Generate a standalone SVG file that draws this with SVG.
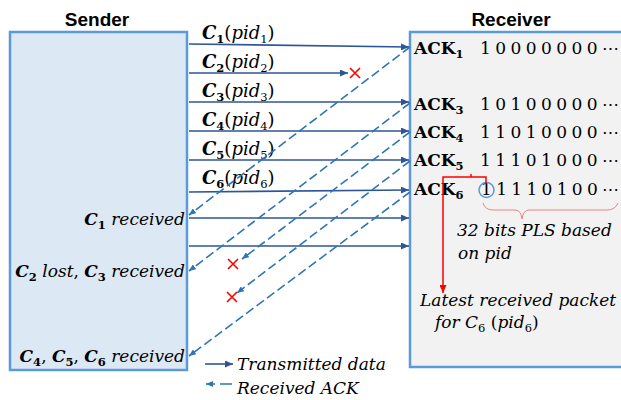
<svg xmlns="http://www.w3.org/2000/svg" width="621" height="400" viewBox="0 0 621 400">
<defs>
<style>
.title{font-family:"Liberation Sans",Arial,sans-serif;font-weight:bold;font-size:19px;fill:#000;text-anchor:middle}
.m{font-family:"DejaVu Serif",serif;font-size:17px;font-style:italic;fill:#000}
.cl{font-size:18px}
.cb{font-weight:bold;font-style:italic}
.up{font-style:normal}
.sb{font-size:11.5px;font-weight:bold;font-style:normal}
.su{font-size:11.5px;font-style:normal}
.ack{font-family:"DejaVu Serif",serif;font-size:17px;font-weight:bold;fill:#000}
.bits{font-family:"DejaVu Serif",serif;font-size:17px;fill:#000}
.data{stroke:#2f5597;stroke-width:1.6;fill:none;marker-end:url(#aS)}
.ackl{stroke:#2e75b6;stroke-width:1.6;fill:none;stroke-dasharray:9 4;marker-end:url(#aD)}
.x{stroke:#ff0000;stroke-width:1.6;fill:none}
</style>
<marker id="aS" markerUnits="userSpaceOnUse" markerWidth="8" markerHeight="7" refX="8" refY="3.5" orient="auto"><path d="M0,0 L8,3.5 L0,7 z" fill="#2f5597"/></marker>
<marker id="aD" markerUnits="userSpaceOnUse" markerWidth="7" markerHeight="6" refX="7" refY="3" orient="auto"><path d="M0,0 L7,3 L0,6 z" fill="#2e75b6"/></marker>
<marker id="aR" markerUnits="userSpaceOnUse" markerWidth="8" markerHeight="7" refX="8" refY="3.5" orient="auto"><path d="M0,0 L8,3.5 L0,7 z" fill="#ff0000"/></marker>
</defs>
<rect width="621" height="400" fill="#fff"/>

<g id="sender">
<rect x="10" y="32" width="177" height="338" fill="#dde8f5" stroke="#5b9bd5" stroke-width="2.5"/>
<text class="title" x="97" y="26">Sender</text>
<text class="m" x="185" y="225" text-anchor="end"><tspan class="cb">C</tspan><tspan class="sb" dy="4">1</tspan><tspan dy="-4"> received</tspan></text>
<text class="m" x="185" y="277" text-anchor="end"><tspan class="cb">C</tspan><tspan class="sb" dy="4">2</tspan><tspan dy="-4"> lost</tspan><tspan class="up">, </tspan><tspan class="cb">C</tspan><tspan class="sb" dy="4">3</tspan><tspan dy="-4"> received</tspan></text>
<text class="m" x="185" y="362" text-anchor="end"><tspan class="cb">C</tspan><tspan class="sb" dy="4">4</tspan><tspan class="up" dy="-4">, </tspan><tspan class="cb">C</tspan><tspan class="sb" dy="4">5</tspan><tspan class="up" dy="-4">, </tspan><tspan class="cb">C</tspan><tspan class="sb" dy="4">6</tspan><tspan dy="-4"> received</tspan></text>
</g>

<g id="receiver">
<rect x="410" y="32" width="220" height="335" fill="#f2f2f2" stroke="#5b9bd5" stroke-width="2.5"/>
<text class="title" x="511" y="26">Receiver</text>
<text class="ack" x="414" y="54">ACK<tspan font-size="11.5" dy="4">1</tspan></text>
<text class="ack" x="414" y="110">ACK<tspan font-size="11.5" dy="4">3</tspan></text>
<text class="ack" x="414" y="138">ACK<tspan font-size="11.5" dy="4">4</tspan></text>
<text class="ack" x="414" y="166">ACK<tspan font-size="11.5" dy="4">5</tspan></text>
<text class="ack" x="414" y="195">ACK<tspan font-size="11.5" dy="4">6</tspan></text>
<text class="bits" x="480" y="54" textLength="139" lengthAdjust="spacing">1 0 0 0 0 0 0 0 ⋯</text>
<text class="bits" x="480" y="110" textLength="139" lengthAdjust="spacing">1 0 1 0 0 0 0 0 ⋯</text>
<text class="bits" x="480" y="138" textLength="139" lengthAdjust="spacing">1 1 0 1 0 0 0 0 ⋯</text>
<text class="bits" x="480" y="166" textLength="139" lengthAdjust="spacing">1 1 1 0 1 0 0 0 ⋯</text>
<text class="bits" x="481" y="195" textLength="138" lengthAdjust="spacing">1 1 1 1 0 1 0 0 ⋯</text>
<circle cx="486.5" cy="190" r="7.5" fill="none" stroke="#5b9bd5" stroke-width="1.5"/>
<path d="M483,203 Q485,210 493,210 L515,210 Q521,210 522,219 Q523,210 529,210 L607,210 Q615,210 618,203" fill="none" stroke="#f08080" stroke-width="1"/>
<text class="m" x="457" y="236">32 bits PLS based</text>
<text class="m" x="458" y="259">on pid</text>
<text class="m" x="420" y="306">Latest received packet</text>
<text class="m" x="435" y="328">for C<tspan class="su" dy="4">6</tspan><tspan dy="-4"> </tspan><tspan class="up">(</tspan>pid<tspan class="su" dy="4">6</tspan><tspan class="up" dy="-4">)</tspan></text>
</g>

<g id="labels">
<text class="m cl" x="202" y="39"><tspan class="cb">C</tspan><tspan class="sb" dy="4">1</tspan><tspan class="up" dy="-4">(</tspan>pid<tspan class="su" dy="4">1</tspan><tspan class="up" dy="-4">)</tspan></text>
<text class="m cl" x="202" y="68"><tspan class="cb">C</tspan><tspan class="sb" dy="4">2</tspan><tspan class="up" dy="-4">(</tspan>pid<tspan class="su" dy="4">2</tspan><tspan class="up" dy="-4">)</tspan></text>
<text class="m cl" x="202" y="97"><tspan class="cb">C</tspan><tspan class="sb" dy="4">3</tspan><tspan class="up" dy="-4">(</tspan>pid<tspan class="su" dy="4">3</tspan><tspan class="up" dy="-4">)</tspan></text>
<text class="m cl" x="202" y="126"><tspan class="cb">C</tspan><tspan class="sb" dy="4">4</tspan><tspan class="up" dy="-4">(</tspan>pid<tspan class="su" dy="4">4</tspan><tspan class="up" dy="-4">)</tspan></text>
<text class="m cl" x="202" y="155"><tspan class="cb">C</tspan><tspan class="sb" dy="4">5</tspan><tspan class="up" dy="-4">(</tspan>pid<tspan class="su" dy="4">5</tspan><tspan class="up" dy="-4">)</tspan></text>
<text class="m cl" x="202" y="184"><tspan class="cb">C</tspan><tspan class="sb" dy="4">6</tspan><tspan class="up" dy="-4">(</tspan>pid<tspan class="su" dy="4">6</tspan><tspan class="up" dy="-4">)</tspan></text>
</g>

<g id="connectors">
<path class="data" d="M189,44 L409,47"/>
<path class="data" d="M189,73 L348,73"/>
<path class="data" d="M189,102 L409,102"/>
<path class="data" d="M189,131 L409,131"/>
<path class="data" d="M189,160 L409,160"/>
<path class="data" d="M189,192 L409,190"/>
<path class="data" d="M189,218 L409,218"/>
<path class="data" d="M189,246 L409,246"/>
<path class="ackl" d="M410,47 L189,215"/>
<path class="ackl" d="M410,103 L189,271"/>
<path class="ackl" d="M410,132 L242,259"/>
<path class="ackl" d="M410,161 L237,293"/>
<path class="ackl" d="M410,192 L189,356"/>
<path d="M486,183 L486,177 L443,177 L443,293" fill="none" stroke="#ff0000" stroke-width="1.5" marker-end="url(#aR)"/>
<path d="M471,177 L471,174" stroke="#ff0000" stroke-width="1.5"/>
</g>

<g id="losses">
<path class="x" d="M350,68 L360,78 M360,68 L350,78"/>
<path class="x" d="M228,259 L238,269 M238,259 L228,269"/>
<path class="x" d="M227,292 L237,302 M237,292 L227,302"/>
</g>

<g id="legend">
<path d="M205,364 L233,364" stroke="#2f5597" stroke-width="1.6" marker-end="url(#aS)"/>
<text class="m" x="237" y="370">Transmitted data</text>
<path d="M232,384 L206,384" stroke="#2e75b6" stroke-width="1.6" stroke-dasharray="12 5" marker-end="url(#aD)"/>
<text class="m" x="237" y="394">Received ACK</text>
</g>
</svg>
